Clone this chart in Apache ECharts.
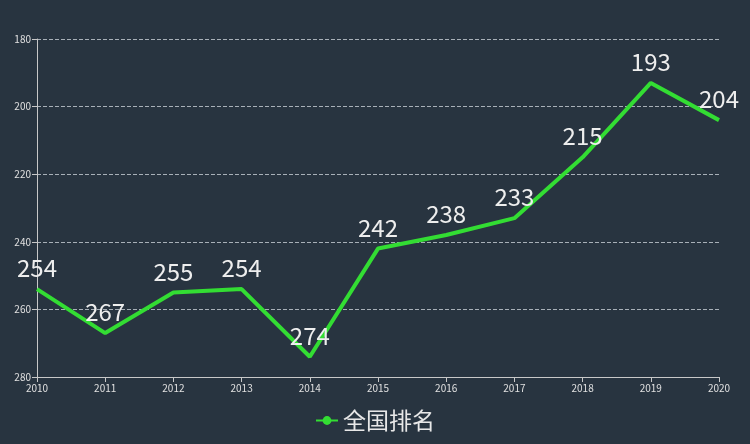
<!DOCTYPE html>
<html>
<head>
<meta charset="utf-8">
<script src="https://cdn.jsdelivr.net/npm/echarts@6/dist/echarts.min.js"></script>
<style>
  html, body { margin: 0; padding: 0; background: #283440; }
  #chart { width: 750px; height: 444px; }
</style>
</head>
<body>
<div id="chart"></div>
<script>
const years = ['2010', '2011', '2012', '2013', '2014', '2015', '2016', '2017', '2018', '2019', '2020'];
const ranks = [254, 267, 255, 254, 274, 242, 238, 233, 215, 193, 204];
const seriesName = '全国排名';

const chart = echarts.init(document.getElementById('chart'));
const font = '"Noto Sans CJK SC", "Noto Sans", sans-serif';

chart.setOption({
  backgroundColor: '#283440',
  textStyle: { fontFamily: font },
  grid: { left: 37, right: 31, top: 39, bottom: 67 },
  legend: {
    bottom: 7,
    left: 'center',
    data: [seriesName],
    itemWidth: 22,
    itemHeight: 11,
    itemGap: 6,
    textStyle: { color: '#e8e8e8', fontSize: 23, fontFamily: font },
  },
  xAxis: {
    type: 'category',
    data: years,
    boundaryGap: false,
    axisLine: { lineStyle: { color: '#c8c8c8' } },
    axisTick: { lineStyle: { color: '#c8c8c8' } },
    axisLabel: { color: '#e0e0e0', fontSize: 10, margin: 6 },
    splitLine: { show: false },
  },
  yAxis: {
    type: 'value',
    inverse: true,
    min: 180,
    max: 280,
    interval: 20,
    axisLine: { show: true, lineStyle: { color: '#c8c8c8' } },
    axisTick: { show: true, length: 5, lineStyle: { color: '#c8c8c8' } },
    axisLabel: { color: '#e0e0e0', fontSize: 10, margin: 6 },
    splitLine: { lineStyle: { color: '#a8b0b8', type: 'dashed' } },
  },
  series: [{
    name: seriesName,
    type: 'line',
    data: ranks,
    showSymbol: true,
    symbol: 'circle',
    symbolSize: 0,
    itemStyle: { color: '#33dd33' },
    lineStyle: { color: '#33dd33', width: 4 },
    label: {
      show: true,
      position: 'top',
      distance: 9,
      color: '#eeeeee',
      fontSize: 24,
      fontFamily: font,
    },
  }],
});
</script>
</body>
</html>
